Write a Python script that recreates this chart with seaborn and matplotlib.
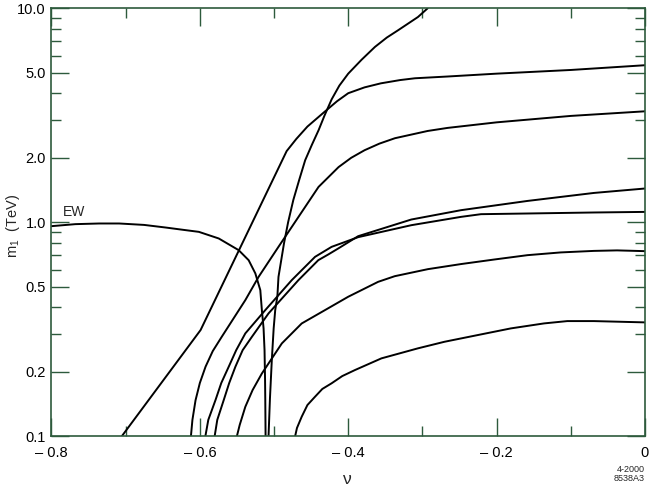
import numpy as np
import pandas as pd
import matplotlib
matplotlib.use("Agg")
import matplotlib.pyplot as plt
from matplotlib.ticker import FixedLocator, NullFormatter
import seaborn as sns

# curves: nu vs m1 (TeV)
nu_a = [-0.705, -0.599, -0.483, -0.470, -0.455, -0.432, -0.415, -0.400, -0.378, -0.356,
        -0.330, -0.310, -0.266, -0.20, -0.10, 0.0]
m_a = [0.1, 0.313, 2.15, 2.45, 2.80, 3.28, 3.68, 4.01, 4.27, 4.46,
       4.62, 4.71, 4.80, 4.95, 5.15, 5.42]

nu_b = [-0.612, -0.610, -0.6058, -0.600, -0.5923, -0.5826, -0.5705, -0.5387, -0.5208, -0.494,
        -0.467, -0.440, -0.413, -0.396, -0.378, -0.358, -0.337, -0.293, -0.266, -0.20, -0.10, 0.0]
m_b = [0.1, 0.119, 0.147, 0.177, 0.211, 0.2495, 0.291, 0.432, 0.555, 0.767,
       1.059, 1.462, 1.81, 2.0, 2.17, 2.33, 2.47, 2.67, 2.76, 2.93, 3.14, 3.30]

nu_steep = [-0.5074, -0.5055, -0.503, -0.5005, -0.4984, -0.4955, -0.494, -0.4866, -0.481, -0.474,
            -0.466, -0.458, -0.449, -0.440, -0.432, -0.4224, -0.412, -0.400, -0.382, -0.364,
            -0.348, -0.333, -0.306, -0.293]
m_steep = [0.1, 0.15, 0.2265, 0.3186, 0.388, 0.45, 0.555, 0.795, 1.0, 1.27,
           1.58, 1.95, 2.3, 2.69, 3.15, 3.75, 4.35, 4.95, 5.75, 6.60,
           7.3, 7.89, 9.11, 10.0]

nu_ew = [-0.8, -0.7678, -0.7356, -0.7087, -0.6752, -0.646, -0.6215, -0.6013, -0.5745, -0.5477,
         -0.5342, -0.5252, -0.5185, -0.5164, -0.5141, -0.5128, -0.5121, -0.5118, -0.5114]
m_ew = [0.958, 0.979, 0.986, 0.986, 0.971, 0.944, 0.920, 0.901, 0.839, 0.740,
        0.664, 0.576, 0.481, 0.388, 0.319, 0.252, 0.183, 0.147, 0.1]

nu_c = [-0.5925, -0.5886, -0.5789, -0.5711, -0.5611, -0.551, -0.5387, -0.5118, -0.4761, -0.4447,
        -0.4224, -0.3866, -0.315, -0.2479, -0.221, -0.1584, -0.0689, 0.0]
m_c = [0.1, 0.119, 0.1473, 0.177, 0.2108, 0.252, 0.3019, 0.388, 0.5358, 0.6885,
       0.7667, 0.851, 0.968, 1.059, 1.090, 1.098, 1.110, 1.117]

nu_d = [-0.58, -0.5765, -0.5678, -0.5604, -0.5521, -0.5423, -0.5298, -0.5074, -0.4671, -0.4403,
        -0.4268, -0.4134, -0.3866, -0.315, -0.2479, -0.1584, -0.0689, 0.0]
m_d = [0.1, 0.119, 0.1473, 0.177, 0.2108, 0.252, 0.2911, 0.3745, 0.5358, 0.6644,
       0.7066, 0.7536, 0.860, 1.029, 1.138, 1.257, 1.370, 1.437]

nu_e = [-0.5500, -0.5463, -0.5387, -0.5289, -0.5164, -0.4895, -0.4627, -0.4313, -0.400, -0.3597,
        -0.3373, -0.2926, -0.2479, -0.2031, -0.1584, -0.1137, -0.0689, -0.0376, 0.0]
m_e = [0.1, 0.1126, 0.137, 0.164, 0.196, 0.271, 0.336, 0.388, 0.448, 0.526,
       0.559, 0.603, 0.637, 0.669, 0.701, 0.722, 0.734, 0.738, 0.732]

nu_f = [-0.4715, -0.4691, -0.4627, -0.455, -0.4447, -0.4349, -0.4224, -0.408, -0.391, -0.3553,
        -0.3061, -0.2702, -0.2255, -0.1808, -0.136, -0.1047, -0.0689, 0.0]
m_f = [0.1, 0.109, 0.1231, 0.1396, 0.1527, 0.166, 0.1764, 0.1907, 0.2034, 0.2307,
       0.257, 0.2759, 0.2965, 0.3186, 0.3362, 0.3447, 0.3447, 0.3399]

x_ticks = [-0.8, -0.6, -0.4, -0.2, 0.0]
x_labels = ["\u2013 0.8", "\u2013 0.6", "\u2013 0.4", "\u2013 0.2", "0"]
y_ticks = [0.1, 0.2, 0.5, 1.0, 2.0, 5.0, 10.0]
y_labels = ["0.1", "0.2", "0.5", "1.0", "2.0", "5.0", "10.0"]

curves = {"A": (nu_a, m_a), "B": (nu_b, m_b), "steep": (nu_steep, m_steep), "EW": (nu_ew, m_ew),
          "C": (nu_c, m_c), "D": (nu_d, m_d), "E": (nu_e, m_e), "F": (nu_f, m_f)}
rows = []
for name, (xs, ys) in curves.items():
    for x, y in zip(xs, ys):
        rows.append({"curve": name, "nu": x, "m1": y})
df = pd.DataFrame(rows)

sns.set_theme(style="white")
plt.rcParams["font.family"] = ["Liberation Sans", "DejaVu Sans"]

green = "#2d5a3c"
fig = plt.figure(figsize=(6.54, 4.91), dpi=100)
ax = fig.add_axes([0.0787, 0.112, 0.9075, 0.871])

sns.lineplot(data=df, x="nu", y="m1", units="curve", estimator=None, sort=False,
             color="black", lw=1.4, ax=ax)

ax.set_yscale("log")
ax.set_xlim(-0.8, 0.0)
ax.set_ylim(0.1, 10.0)

ax.xaxis.set_major_locator(FixedLocator(x_ticks))
ax.set_xticklabels(x_labels)
ax.xaxis.set_minor_locator(FixedLocator([-0.7, -0.5, -0.3, -0.1]))
ax.yaxis.set_major_locator(FixedLocator(y_ticks))
ax.set_yticklabels(y_labels)
ax.yaxis.set_minor_locator(FixedLocator([0.3, 0.4, 0.6, 0.7, 0.8, 0.9, 3, 4, 6, 7, 8, 9]))
ax.yaxis.set_minor_formatter(NullFormatter())

ax.tick_params(which="both", direction="in", top=True, right=True, bottom=True, left=True,
               color=green, labelsize=10.5, labelcolor="black")
ax.tick_params(which="major", length=13, width=1.0)
ax.tick_params(which="minor", length=7.5, width=1.0)
ax.tick_params(axis="x", which="major", pad=7)
ax.tick_params(axis="y", which="major", pad=4)
for s in ax.spines.values():
    s.set_color(green)
    s.set_linewidth(1.2)

ax.set_xlabel("")
ax.set_ylabel("")
ax.grid(False)

ax.text(-0.769, 1.11, "EW", fontsize=10, ha="center", va="center")
fig.text(347 / 654, 1 - 479 / 491, "\u03bd", fontsize=12.5, ha="center", va="center")
fig.text(13 / 654, 1 - 226 / 491, r"m$_{\mathregular{1}}$  (TeV)", fontsize=10.5,
         rotation=90, ha="center", va="center")
fig.text(645 / 654, 1 - 474 / 491, "4-2000\n8538A3", fontsize=6.5, ha="right", va="center",
         linespacing=1.0)

fig.savefig("out.png", dpi=100)
